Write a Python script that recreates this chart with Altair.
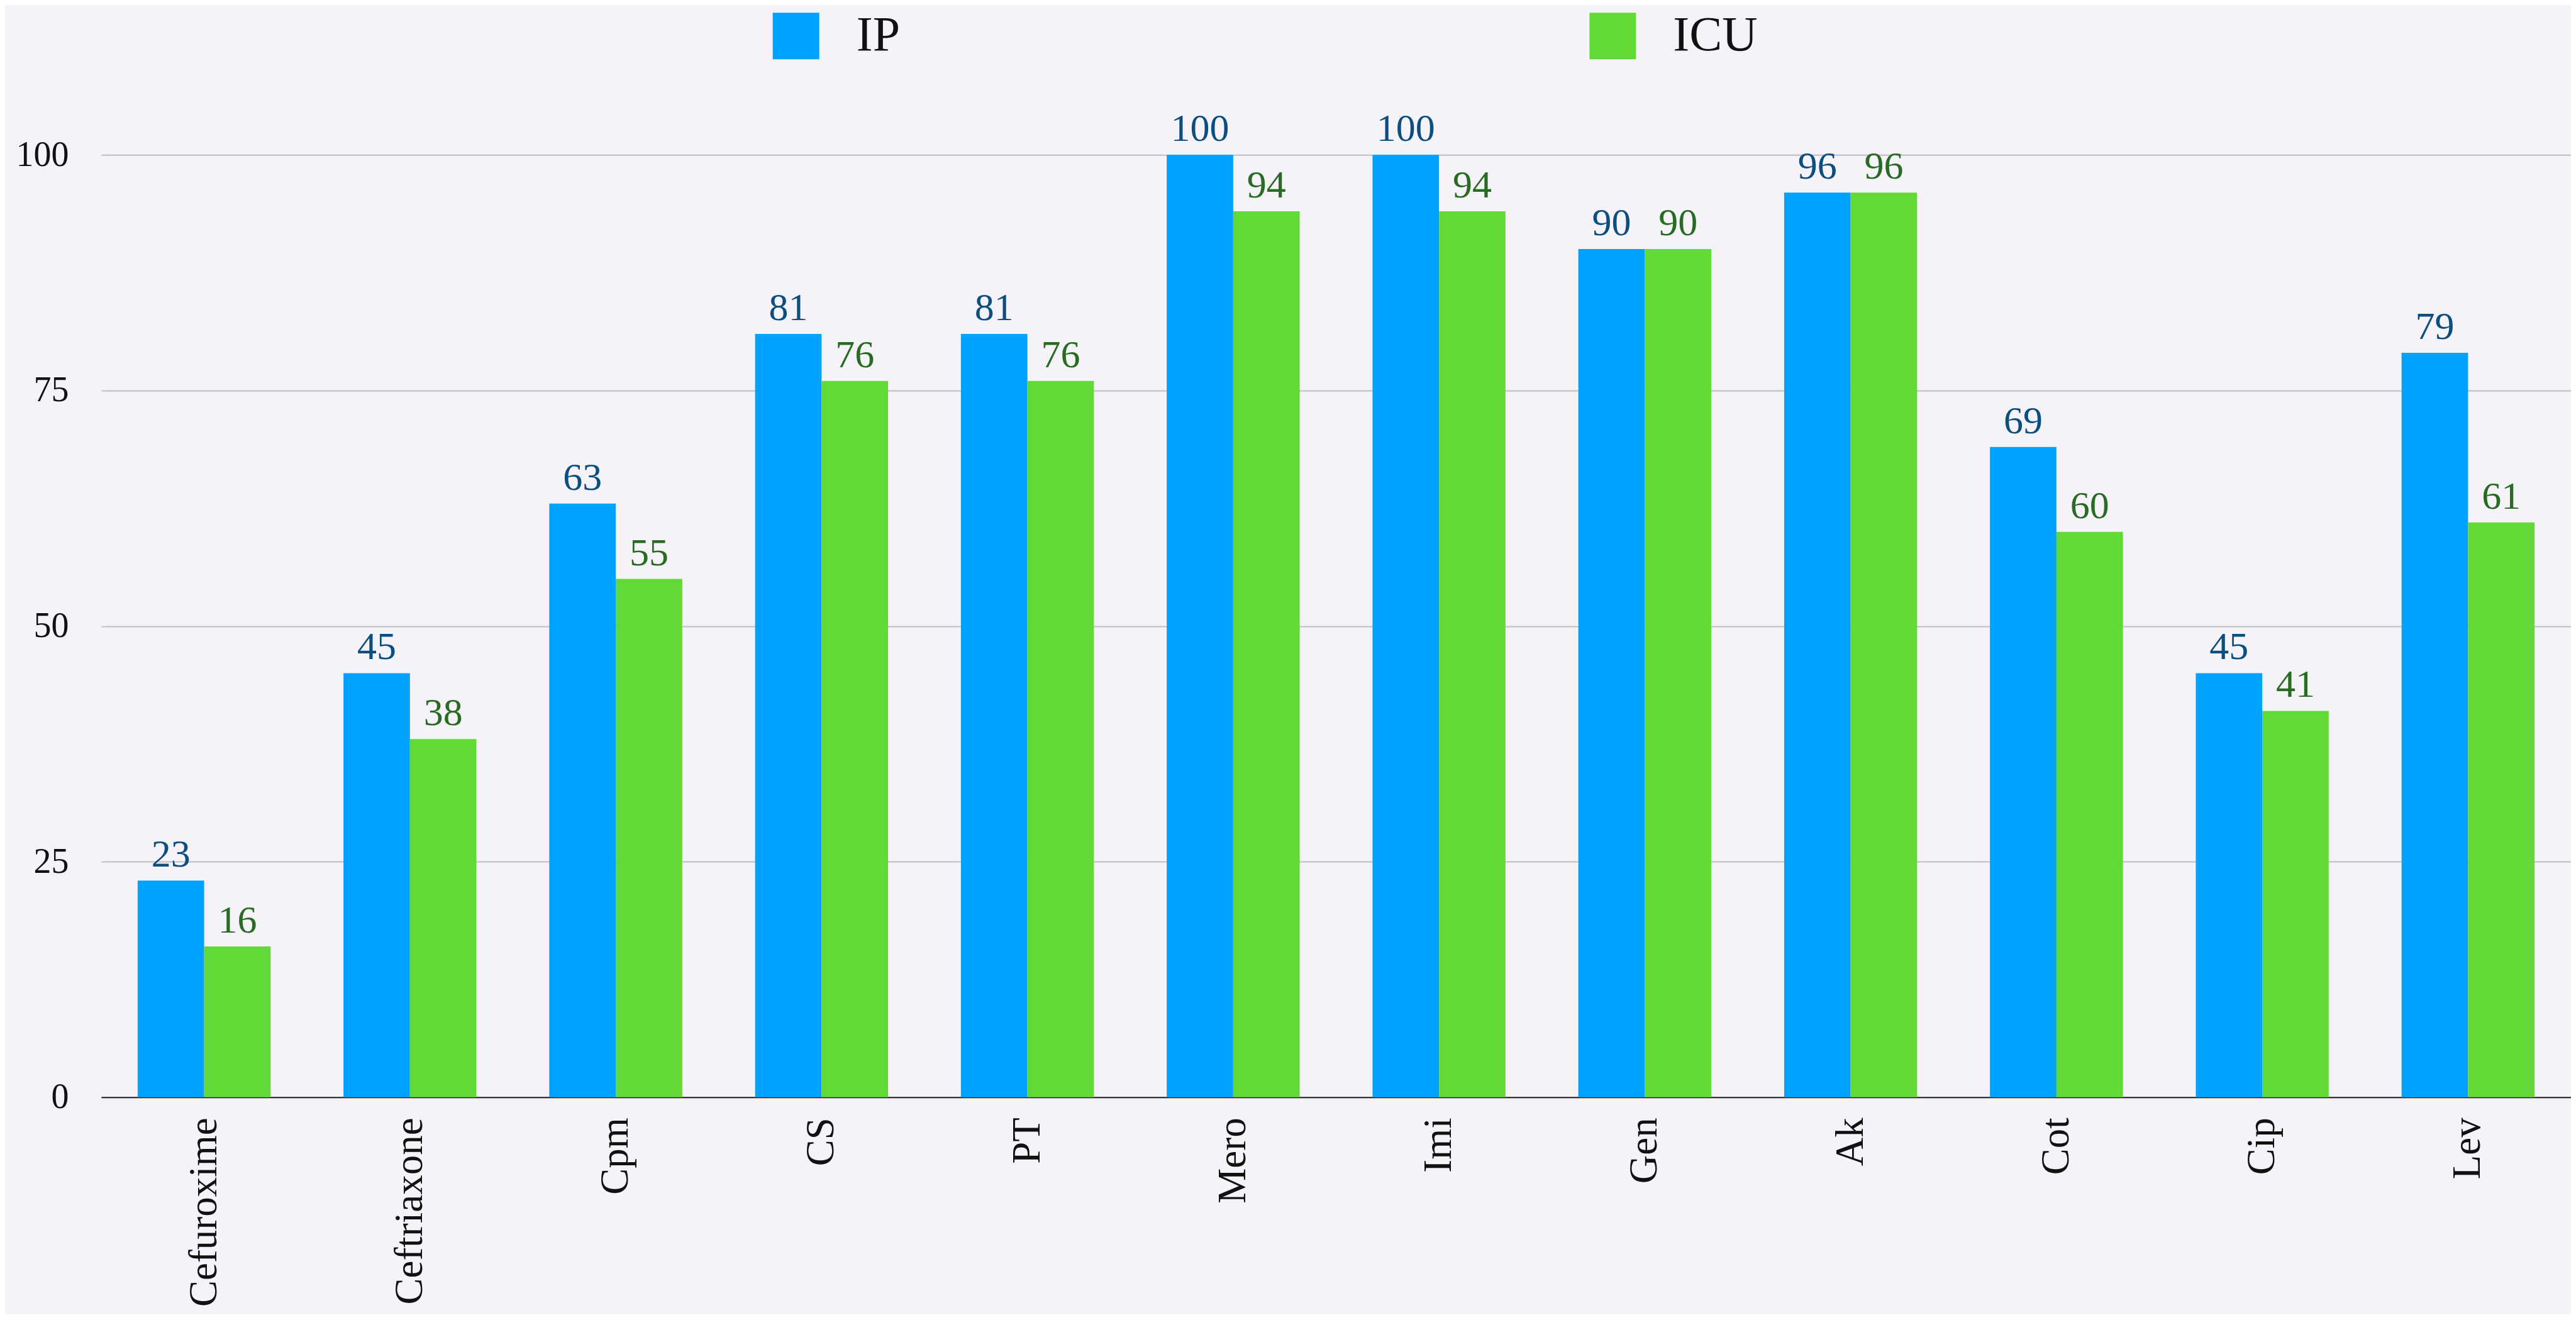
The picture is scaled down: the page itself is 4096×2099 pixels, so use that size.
import altair as alt
import pandas as pd

categories = ["Cefuroxime", "Ceftriaxone", "Cpm", "CS", "PT", "Mero", "Imi", "Gen", "Ak", "Cot", "Cip", "Lev"]
ip_values = [23, 45, 63, 81, 81, 100, 100, 90, 96, 69, 45, 79]
icu_values = [16, 38, 55, 76, 76, 94, 94, 90, 96, 60, 41, 61]
series_names = ["IP", "ICU"]
y_ticks = [0, 25, 50, 75, 100]

rows = []
for c, a, b in zip(categories, ip_values, icu_values):
    rows.append({"drug": c, "series": "IP", "value": a})
    rows.append({"drug": c, "series": "ICU", "value": b})
df = pd.DataFrame(rows)

FONT = "Liberation Serif"

x = alt.X(
    "drug:N", sort=categories,
    scale=alt.Scale(paddingInner=0.354, paddingOuter=0.177),
    axis=alt.Axis(title=None, labelAngle=270, labelFontSize=63, labelFont=FONT,
                  labelColor="#111111", labelPadding=32, labelLimit=1000, ticks=False,
                  domainColor="#222222", domainWidth=2, grid=False),
)
xo = alt.XOffset("series:N", sort=series_names,
                 scale=alt.Scale(domain=series_names, paddingInner=0, paddingOuter=0))
y = alt.Y(
    "value:Q",
    scale=alt.Scale(domain=[0, 100], nice=False),
    axis=alt.Axis(title=None, values=y_ticks, grid=True, gridColor="#BFBFC3",
                  gridWidth=2, domain=False, ticks=False, labelFontSize=56,
                  labelPadding=52, labelFont=FONT, labelColor="#111111"),
)

bars = alt.Chart(df).mark_bar().encode(
    x=x, xOffset=xo, y=y,
    color=alt.Color(
        "series:N", sort=series_names,
        scale=alt.Scale(domain=series_names, range=["#00A2FF", "#62D936"]),
        legend=alt.Legend(title=None, orient="none", direction="horizontal",
                          legendX=1066, legendY=-228, symbolType="square",
                          symbolSize=5476, symbolStrokeWidth=0, symbolOpacity=1,
                          labelFontSize=78, labelFont=FONT, labelColor="#111111",
                          labelOffset=57, columnPadding=1094, padding=0),
    ),
)

texts = alt.Chart(df).mark_text(baseline="alphabetic", dy=-22, fontSize=62, font=FONT).encode(
    x=x, xOffset=xo, y=y,
    color=alt.Color("series:N",
                    scale=alt.Scale(domain=series_names, range=["#0B4F80", "#286B23"]),
                    legend=None),
    text="value:Q",
)

chart = alt.layer(bars, texts).resolve_scale(color="independent").properties(
    width=3928, height=1499,
    autosize=alt.AutoSizeParams(type="none"),
    padding={"left": 153, "top": 238, "right": 0, "bottom": 345},
    background="#F5F3F7",
).configure_view(stroke=None)

chart.save("out.html", embed_options={"renderer": "svg", "actions": False})
